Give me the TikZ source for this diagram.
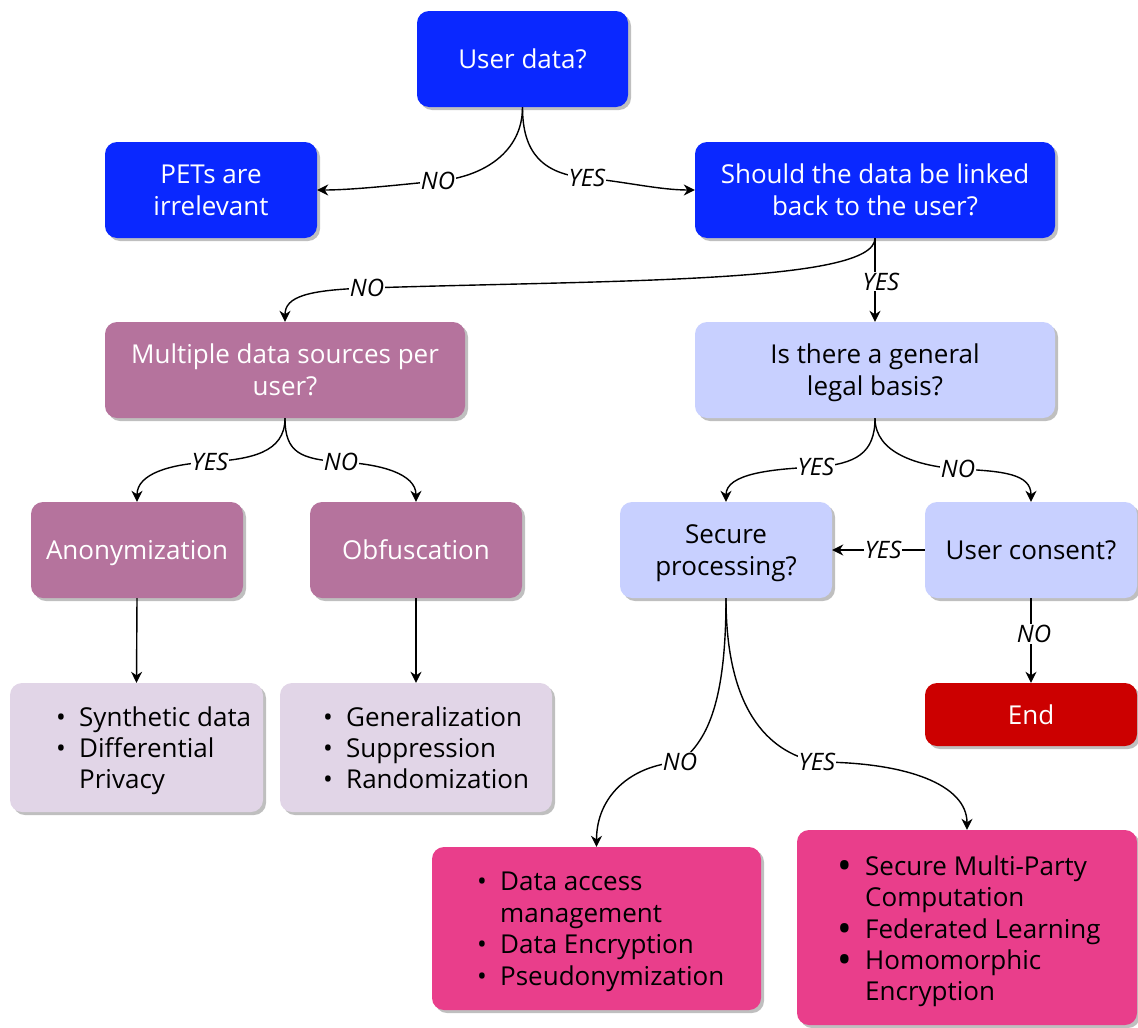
\documentclass[tikz,border=0pt]{standalone}
\usepackage{fontspec}
\setmainfont{Open Sans}
\usetikzlibrary{arrows.meta,shadows}

\definecolor{deepblue}{HTML}{0A28FF}
\definecolor{mauve}{HTML}{B5739D}
\definecolor{lavender}{HTML}{C8D0FF}
\definecolor{lilac}{HTML}{E1D5E7}
\definecolor{hotpink}{HTML}{E93E8B}
\definecolor{stopred}{HTML}{CC0000}

\newcommand\smallbul{\makebox[23pt][l]{\textbullet}}
\newcommand\bigbul{\makebox[28pt][l]{\raisebox{-4pt}[12pt][0pt]{\scalebox{1.5}{\textbullet}}}}
% a line whose descenders do not push the centred text upwards
\newcommand\nodepth[1]{\raisebox{0pt}[\height][0pt]{#1}}

\begin{document}
\begin{tikzpicture}[x=1pt,y=-1pt,
  box/.style={rounded corners=12pt, inner sep=0pt, align=center,
    font=\fontsize{26}{32}\selectfont,
    drop shadow={shadow xshift=3pt, shadow yshift=-3pt, fill=black!25, opacity=1}},
  bluebox/.style={box, fill=deepblue, text=white, minimum width=#1, minimum height=96pt},
  mauvebox/.style={box, fill=mauve, text=white, minimum width=#1, minimum height=96pt},
  lavbox/.style={box, fill=lavender, text=black, minimum width=#1, minimum height=96pt},
  listtxt/.style={inner sep=0pt, anchor=west, align=left, text=black,
    font=\fontsize{26}{31}\selectfont},
  arr/.style={-{Stealth[length=11pt,width=11pt,inset=3.5pt]}, line width=1.4pt, black},
  lbl/.style={fill=white, inner sep=1pt, font=\fontsize{24}{27}\selectfont\itshape}
]
\useasboundingbox (0,0) rectangle (1138,1028);

% decision and result boxes
\node[bluebox=211pt] (ud) at (522.5,59) {User data?};
\node[bluebox=212pt] (pets) at (211,190) {PETs are\\irrelevant};
\node[bluebox=360pt] (sh) at (875,190) {Should the data be linked\\back to the user?};
\node[mauvebox=360pt] (ms) at (285,370) {Multiple data sources per\\user?};
\node[lavbox=360pt] (lb) at (875,370) {Is there a general\\\nodepth{legal basis?}};
\node[mauvebox=212pt] (an) at (137,550) {\nodepth{Anonymization}};
\node[mauvebox=212pt] (ob) at (416,550) {Obfuscation};
\node[lavbox=212pt] (sp) at (726,550) {Secure\\\nodepth{processing?}};
\node[lavbox=212pt] (uc) at (1031,550) {User consent?};
\node[box, fill=stopred, text=white, minimum width=212pt, minimum height=63pt] (end) at (1031,714.5) {End};

% technique lists
\node[box, fill=lilac, minimum width=253pt, minimum height=129pt] (syn) at (136.5,747.5) {};
\node[box, fill=lilac, minimum width=272pt, minimum height=129pt] (gen) at (416,747.5) {};
\node[box, fill=hotpink, minimum width=329pt, minimum height=163pt] (da) at (596.5,928.5) {};
\node[box, fill=hotpink, minimum width=340pt, minimum height=195pt] (mpc) at (967,927.5) {};

\node[listtxt] (syntxt) at (56,751) {\begin{tabular}{@{}l@{}l@{}}
\smallbul & Synthetic data\\ \smallbul & Differential\\ & Privacy\end{tabular}};
\node[listtxt] (gentxt) at (323,751) {\begin{tabular}{@{}l@{}l@{}}
\smallbul & Generalization\\ \smallbul & Suppression\\ \smallbul & Randomization\end{tabular}};
\node[listtxt, font=\fontsize{26}{31.5}\selectfont] (datxt) at (477,931.5) {\begin{tabular}{@{}l@{}l@{}}
\smallbul & Data access\\ & management\\ \smallbul & Data Encryption\\ \smallbul & Pseudonymization\end{tabular}};
\node[listtxt, font=\fontsize{26}{31.3}\selectfont] (mpctxt) at (837,932) {\begin{tabular}{@{}l@{}l@{}}
\bigbul & Secure Multi-Party\\ & Computation\\ \bigbul & Federated Learning\\ \bigbul & Homomorphic\\ & Encryption\end{tabular}};

% label anchor points of the curved connectors
\coordinate (m1) at (438,181);
\coordinate (m2) at (587,178);
\coordinate (m3) at (367,288);
\coordinate (m5) at (210,462);
\coordinate (m6) at (341,462);
\coordinate (m7) at (816,467);
\coordinate (m8) at (958,469);
\coordinate (m13) at (680,762);
\coordinate (m14) at (817,762);

% connectors
\draw[arr] (ud.south) .. controls +(0,45) and +(45,-4) .. (m1)
  .. controls +(-40,4) and +(35,0) .. (pets.east);
\draw[arr] (ud.south) .. controls +(0,45) and +(-45,-4) .. (m2)
  .. controls +(40,4) and +(-35,0) .. (sh.west);
\draw[arr] (sh.south) .. controls +(0,45) and +(250,-8) .. (m3)
  .. controls +(-60,2) and +(0,-25) .. (ms.north);
\draw[arr] (sh.south) -- (lb.north) node[lbl, pos=0.52, xshift=6pt] (l4) {YES};
\draw[arr] (ms.south) .. controls +(0,35) and +(40,-3) .. (m5)
  .. controls +(-40,2) and +(0,-28) .. (an.north);
\draw[arr] (ms.south) .. controls +(0,35) and +(-40,-3) .. (m6)
  .. controls +(40,2) and +(0,-28) .. (ob.north);
\draw[arr] (lb.south) .. controls +(0,35) and +(40,-3) .. (m7)
  .. controls +(-45,2) and +(0,-28) .. (sp.north);
\draw[arr] (lb.south) .. controls +(0,35) and +(-40,-3) .. (m8)
  .. controls +(45,2) and +(0,-28) .. (uc.north);
\draw[arr] (uc.west) -- (sp.east) node[lbl, pos=0.45] (l9) {YES};
\draw[arr] (uc.south) -- (end.north) node[lbl, pos=0.42, xshift=3pt] (l10) {NO};
\draw[arr] (an.south) -- (syn.north);
\draw[arr] (ob.south) -- (gen.north);
\draw[arr] (sp.south) .. controls +(0,110) and +(25,-20) .. (m13)
  .. controls +(-50,3) and +(0,-50) .. (da.north);
\draw[arr] (sp.south) .. controls +(0,110) and +(-50,-10) .. (m14)
  .. controls +(90,0) and +(0,-45) .. (mpc.north);

% connector labels
\node[lbl] (l1) at (m1) {NO};
\node[lbl] (l2) at (m2) {YES};
\node[lbl] (l3) at (m3) {NO};
\node[lbl] (l5) at (m5) {YES};
\node[lbl] (l6) at (m6) {NO};
\node[lbl] (l7) at (m7) {YES};
\node[lbl] (l8) at (m8) {NO};
\node[lbl] (l13) at (m13) {NO};
\node[lbl] (l14) at (m14) {YES};
\end{tikzpicture}
\end{document}
